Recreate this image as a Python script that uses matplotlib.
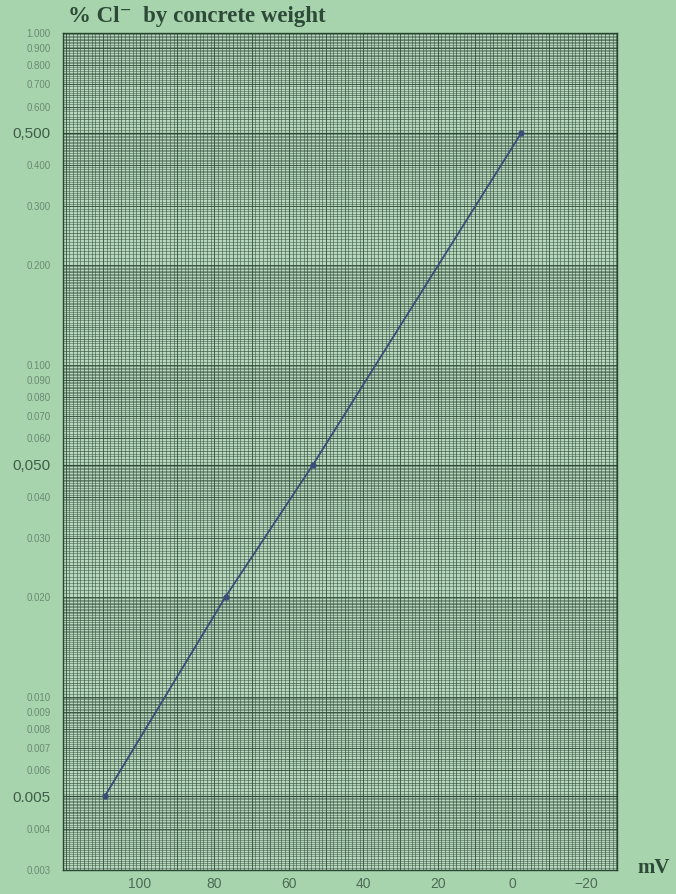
import numpy as np
import matplotlib
matplotlib.use("Agg")
import matplotlib.pyplot as plt

# values
mv = [109.5, 77, 53.5, -2.5]
chloride = [0.005, 0.020, 0.050, 0.500]

x_ticks = [100, 80, 60, 40, 20, 0, -20]
x_labels = ["100", "80", "60", "40", "20", "0", "\u221220"]
y_small = [1.0, 0.9, 0.8, 0.7, 0.6, 0.4, 0.3, 0.2,
           0.1, 0.09, 0.08, 0.07, 0.06, 0.04, 0.03, 0.02,
           0.01, 0.009, 0.008, 0.007, 0.006, 0.004, 0.003]
y_small_labels = ["1.000", "0.900", "0.800", "0.700", "0.600", "0.400", "0.300", "0.200",
                  "0.100", "0.090", "0.080", "0.070", "0.060", "0.040", "0.030", "0.020",
                  "0.010", "0.009", "0.008", "0.007", "0.006", "0.004", "0.003"]
y_big = [0.5, 0.05, 0.005]
y_big_labels = ["0,500", "0,050", "0.005"]

BG = "#a7d4ac"
INK = "#2a4433"

fig = plt.figure(figsize=(6.76, 8.94), dpi=100, facecolor=BG)
ax = fig.add_axes([0.0932, 0.0268, 0.8195, 0.9363])
ax.set_facecolor("#b8d8bd")
ax.set_yscale("log")
ax.set_xlim(120.7, -28.2)
ax.set_ylim(0.003, 1.0)

# graph paper rulings
xt = ax.get_xaxis_transform()
yt = ax.get_yaxis_transform()
ax.vlines(np.arange(-28, 121, 1), 0, 1, transform=xt, color=INK, lw=0.55, alpha=0.65, zorder=1)
ax.vlines(np.arange(-25, 121, 10), 0, 1, transform=xt, color=INK, lw=0.55, alpha=0.3, zorder=1)
ax.vlines(np.arange(-20, 121, 10), 0, 1, transform=xt, color=INK, lw=0.7, alpha=0.6, zorder=1)

fine_y, mid_y, main_y = [], [], []
for d in (0.001, 0.01, 0.1):
    fine_y += list(np.arange(1, 2, 0.02) * d) + list(np.arange(2, 5, 0.05) * d) + list(np.arange(5, 10, 0.1) * d)
    mid_y += list(np.arange(1, 2, 0.1) * d) + list(np.arange(2, 5, 0.5) * d) + list(np.arange(5, 10, 0.5) * d)
    main_y += list(np.arange(1, 10, 1) * d)
fine_y = [v for v in fine_y if 0.003 <= v <= 1.0]
mid_y = [v for v in mid_y if 0.003 <= v <= 1.0]
main_y = [v for v in main_y if 0.003 <= v <= 1.0]
ax.hlines(fine_y, 0, 1, transform=yt, color=INK, lw=0.5, alpha=0.6, zorder=1)
ax.hlines(mid_y, 0, 1, transform=yt, color=INK, lw=0.55, alpha=0.35, zorder=1)
ax.hlines(main_y, 0, 1, transform=yt, color=INK, lw=0.7, alpha=0.6, zorder=1)
ax.hlines([0.5, 0.05, 0.005], 0, 1, transform=yt, color=INK, lw=0.9, alpha=0.7, zorder=1)

for s in ax.spines.values():
    s.set_color(INK)
    s.set_linewidth(1.0)

# calibration line
ax.plot(mv, chloride, color="#3a4d78", lw=1.3, marker="o", ms=3.5, zorder=3)

# ticks
ax.set_xticks(x_ticks)
ax.set_xticklabels(x_labels, fontsize=10, color="#4d6b57", family="Liberation Sans")
ax.minorticks_off()
ax.set_yticks(y_small + y_big)
ax.set_yticklabels(y_small_labels + y_big_labels, family="Liberation Sans")
for lab in ax.get_yticklabels():
    if lab.get_text() in y_big_labels:
        lab.set_fontsize(11)
        lab.set_color("#3f5e49")
    else:
        lab.set_fontsize(7)
        lab.set_color("#6a8a74")
ax.tick_params(axis="both", length=0)
ax.tick_params(axis="y", pad=9)
ax.tick_params(axis="x", pad=5)

fig.text(0.1, 0.982, "% Cl\u207b  by concrete weight", fontsize=16.5, fontweight="bold",
         family=["Liberation Serif", "DejaVu Serif"], color="#2c4a37", va="center", ha="left")
fig.text(0.943, 0.029, "mV", fontsize=15, fontweight="bold",
         family="Liberation Serif", color="#2c4a37", va="center", ha="left")

fig.savefig("out.png", dpi=100, facecolor=BG)
